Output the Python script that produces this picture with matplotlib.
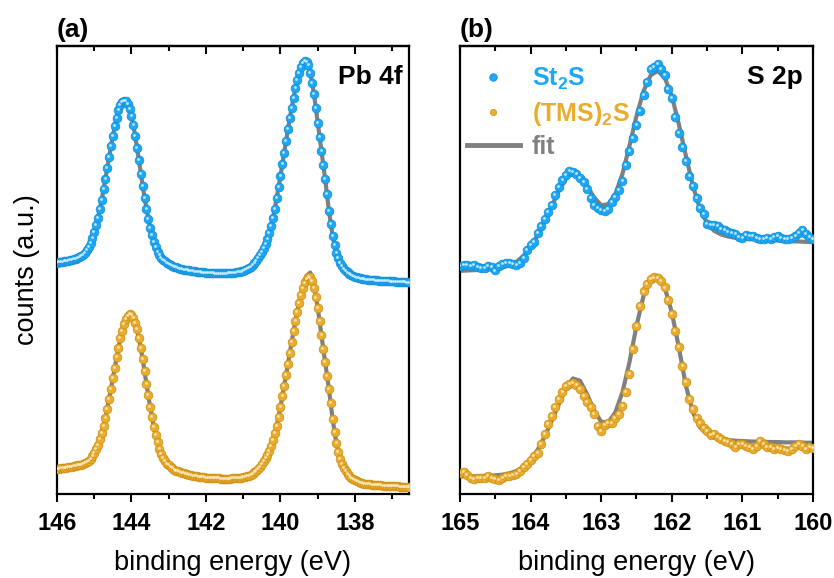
import numpy as np
import matplotlib
matplotlib.use("Agg")
import matplotlib.pyplot as plt
from matplotlib.lines import Line2D
from matplotlib.ticker import MultipleLocator
from matplotlib.transforms import offset_copy

plt.rcParams["font.family"] = ["Liberation Sans", "DejaVu Sans"]
plt.rcParams["mathtext.fontset"] = "custom"
plt.rcParams["mathtext.rm"] = "Liberation Sans"
plt.rcParams["mathtext.bf"] = "Liberation Sans:bold"

# ---- Pb 4f : data every 0.05 eV from 146 eV downwards ----
pb_start, pb_step = 146.0, 0.05
pb_st2s = [
    695, 696, 697, 698, 699, 700, 701, 702, 704, 705,
    707, 709, 712, 715, 719, 725, 733, 743, 755, 770,
    787, 807, 830, 855, 883, 915, 947, 980, 1012, 1045,
    1075, 1105, 1130, 1152, 1167, 1177, 1181, 1179, 1170, 1155,
    1135, 1107, 1075, 1040, 1002, 962, 925, 890, 857, 827,
    800, 777, 757, 741, 728, 718, 710, 704, 699, 695,
    691, 688, 685, 683, 681, 679, 677, 676, 674, 673,
    672, 671, 670, 669, 668, 667, 667, 666, 665, 665,
    664, 664, 663, 663, 663, 662, 662, 662, 662, 662,
    662, 662, 663, 663, 663, 664, 665, 666, 667, 668,
    670, 672, 675, 678, 682, 687, 693, 700, 708, 717,
    727, 738, 751, 767, 785, 805, 830, 857, 890, 923,
    955, 990, 1025, 1060, 1095, 1128, 1160, 1190, 1218, 1243,
    1265, 1282, 1293, 1299, 1298, 1287, 1265, 1235, 1200, 1160,
    1115, 1073, 1030, 987, 945, 900, 850, 810, 775, 747,
    725, 708, 695, 685, 677, 670, 665, 661, 657, 654,
    652, 650, 648, 647, 646, 645, 644, 643, 643, 642,
    642, 641, 641, 640, 640, 640, 639, 639, 639, 638,
    638, 638, 637, 637, 637, 636, 636, 636, 635, 635,
]
pb_tms = [
    75, 76, 77, 77, 78, 79, 80, 81, 82, 83,
    84, 86, 87, 88, 90, 93, 96, 100, 106, 113,
    123, 134, 148, 164, 183, 205, 229, 256, 286, 316,
    348, 378, 410, 438, 467, 490, 511, 525, 535, 539,
    537, 528, 514, 495, 468, 438, 405, 369, 331, 296,
    262, 231, 202, 177, 155, 136, 121, 108, 99, 91,
    86, 81, 77, 73, 70, 68, 66, 64, 62, 60,
    59, 57, 56, 55, 54, 53, 52, 51, 50, 50,
    49, 49, 49, 48, 48, 47, 47, 47, 46, 46,
    46, 46, 46, 46, 47, 47, 47, 48, 49, 49,
    50, 51, 53, 55, 58, 61, 65, 69, 75, 82,
    89, 98, 107, 118, 130, 145, 163, 182, 205, 231,
    262, 294, 324, 357, 391, 424, 457, 488, 519, 547,
    574, 598, 619, 635, 645, 651, 650, 639, 619, 590,
    557, 519, 476, 436, 395, 354, 315, 272, 224, 186,
    153, 126, 106, 89, 77, 68, 60, 53, 49, 45,
    41, 38, 36, 34, 32, 31, 30, 30, 29, 28,
    28, 27, 27, 26, 26, 25, 25, 25, 24, 24,
    24, 23, 23, 23, 22, 22, 22, 21, 21, 21,
]
# fitted envelopes, 0.1 eV grid
pb_fit_step = 0.1
pb_st2s_fit = [
    695, 697, 699, 701, 704, 707, 712, 719, 733, 755,
    787, 830, 883, 947, 1012, 1075, 1130, 1167, 1181, 1170,
    1135, 1075, 1002, 925, 857, 800, 757, 728, 710, 699,
    691, 685, 681, 677, 674, 672, 670, 668, 667, 665,
    664, 663, 663, 662, 662, 662, 663, 663, 665, 667,
    670, 675, 682, 693, 708, 727, 751, 785, 830, 890,
    955, 1025, 1095, 1160, 1218, 1265, 1293, 1300, 1265, 1200,
    1115, 1030, 945, 850, 775, 725, 695, 677, 665, 657,
    652, 648, 646, 644, 643, 642, 641, 640, 639, 639,
    638, 637, 637, 636, 635,
]
pb_tms_fit = [
    75, 77, 78, 80, 82, 84, 87, 90, 96, 106,
    123, 148, 183, 229, 286, 348, 410, 467, 511, 535,
    537, 514, 468, 405, 331, 262, 202, 155, 121, 99,
    86, 77, 70, 66, 62, 59, 56, 54, 52, 50,
    49, 49, 48, 47, 46, 46, 46, 47, 47, 49,
    50, 53, 58, 65, 75, 89, 107, 130, 163, 205,
    262, 324, 391, 457, 519, 576, 622, 655, 665, 628,
    560, 476, 395, 315, 224, 153, 106, 77, 60, 49,
    41, 36, 32, 30, 29, 28, 27, 26, 25, 24,
    24, 23, 22, 22, 21,
]

# ---- S 2p : data every 0.05 eV from 165 eV downwards ----
s_start, s_step = 165.0, 0.05
s_st2s = [
    685, 687, 689, 685, 687, 683, 680, 679, 685, 681,
    671, 685, 690, 693, 695, 692, 689, 695, 710, 733,
    747, 757, 783, 805, 825, 848, 867, 897, 923, 942,
    957, 969, 967, 960, 949, 937, 917, 890, 868, 858,
    853, 850, 857, 878, 893, 913, 940, 988, 1030, 1068,
    1107, 1150, 1198, 1237, 1277, 1283, 1290, 1277, 1257, 1217,
    1188, 1133, 1083, 1042, 1000, 955, 925, 890, 860, 842,
    810, 808, 807, 805, 797, 792, 787, 785, 781, 772,
    769, 779, 775, 775, 769, 765, 765, 769, 766, 771,
    775, 769, 765, 767, 770, 775, 785, 792, 780, 771,
    765,
]
s_tms = [
    62, 65, 57, 48, 45, 47, 49, 48, 53, 49,
    45, 43, 49, 53, 55, 57, 60, 70, 80, 91,
    102, 115, 123, 150, 180, 210, 235, 260, 285, 307,
    323, 330, 333, 327, 315, 295, 277, 260, 240, 205,
    190, 207, 213, 212, 227, 240, 265, 305, 360, 435,
    505, 565, 608, 630, 645, 650, 648, 640, 620, 583,
    540, 490, 440, 385, 335, 285, 255, 228, 212, 198,
    188, 177, 180, 170, 165, 160, 155, 149, 140, 150,
    150, 145, 140, 135, 145, 160, 149, 142, 140, 135,
    137, 135, 133, 130, 135, 145, 149, 143, 135, 140,
    137,
]
s_fit_step = 0.1
s_st2s_fit = [
    670, 671, 672, 673, 675, 677, 680, 687, 697, 715,
    742, 777, 820, 865, 910, 947, 965, 955, 925, 890,
    867, 870, 900, 960, 1045, 1135, 1210, 1257, 1270, 1250,
    1195, 1110, 1015, 925, 855, 813, 790, 779, 773, 769,
    767, 765, 764, 763, 762, 761, 760, 759, 758, 757,
    756,
]
s_tms_fit = [
    53, 53, 53, 54, 55, 56, 58, 62, 69, 82,
    103, 133, 173, 220, 270, 317, 347, 340, 300, 250,
    217, 215, 245, 305, 395, 505, 595, 645, 655, 620,
    545, 440, 325, 245, 200, 180, 170, 165, 162, 160,
    159, 158, 157, 157, 156, 156, 155, 155, 155, 154,
    154,
]

pb_ticks = [146, 144, 142, 140, 138]
s_ticks = [165, 164, 163, 162, 161, 160]

BLUE, BLUE_EDGE, BLUE_SHINE = "#1DA8F5", "#168BD4", "#D2F0FF"
GOLD, GOLD_EDGE, GOLD_SHINE = "#EAAC2C", "#C98E17", "#FCEBBE"
GREY = "#808080"


def energy_axis(start, step, n):
    return start - step * np.arange(n)


def draw_dots(ax, x, y, color, edge, shine):
    ax.plot(x, y, "o", ms=6.3, mfc=color, mec=edge, mew=0.5, zorder=3)
    # small highlight so the dots look like little spheres
    tr = offset_copy(ax.transData, fig=ax.figure, x=-0.6, y=0.7, units="points")
    ax.plot(x, y, "o", ms=2.0, mfc=shine, mec="none", alpha=0.9,
            transform=tr, zorder=4)


def draw_fit(ax, x, y):
    ax.plot(x, y, color=GREY, lw=3, solid_capstyle="round", zorder=2)


fig = plt.figure(figsize=(8.34, 5.78), dpi=100)
ax1 = fig.add_axes([57 / 834, 1 - 494 / 578, 352 / 834, 448 / 578])
ax2 = fig.add_axes([460 / 834, 1 - 494 / 578, 353 / 834, 448 / 578])

# panel (a)
draw_fit(ax1, energy_axis(pb_start, pb_fit_step, len(pb_st2s_fit)), pb_st2s_fit)
draw_fit(ax1, energy_axis(pb_start, pb_fit_step, len(pb_tms_fit)), pb_tms_fit)
draw_dots(ax1, energy_axis(pb_start, pb_step, len(pb_st2s)), pb_st2s,
          BLUE, BLUE_EDGE, BLUE_SHINE)
draw_dots(ax1, energy_axis(pb_start, pb_step, len(pb_tms)), pb_tms,
          GOLD, GOLD_EDGE, GOLD_SHINE)
ax1.set_xlim(146, 136.55)
ax1.set_xticks(pb_ticks, labels=[str(t) for t in pb_ticks])
ax1.xaxis.set_minor_locator(MultipleLocator(1))

# panel (b)
draw_fit(ax2, energy_axis(s_start, s_fit_step, len(s_st2s_fit)), s_st2s_fit)
draw_fit(ax2, energy_axis(s_start, s_fit_step, len(s_tms_fit)), s_tms_fit)
draw_dots(ax2, energy_axis(s_start, s_step, len(s_st2s)), s_st2s,
          BLUE, BLUE_EDGE, BLUE_SHINE)
draw_dots(ax2, energy_axis(s_start, s_step, len(s_tms)), s_tms,
          GOLD, GOLD_EDGE, GOLD_SHINE)
ax2.set_xlim(165, 160)
ax2.set_xticks(s_ticks, labels=[str(t) for t in s_ticks])
ax2.xaxis.set_minor_locator(MultipleLocator(0.5))

for ax in (ax1, ax2):
    ax.set_ylim(0, 1345)
    ax.set_yticks([])
    for sp in ax.spines.values():
        sp.set_linewidth(1.6)
    ax.tick_params(axis="x", which="major", direction="out", length=6,
                   width=1.5, labelsize=17, pad=7)
    ax.tick_params(axis="x", which="minor", direction="out", length=3.5,
                   width=1.5)
    for lab in ax.get_xticklabels():
        lab.set_fontweight("bold")
    ax.set_xlabel("binding energy (eV)", fontsize=19.5, labelpad=11)
    # inward ticks along the top edge
    top = ax.secondary_xaxis("top")
    top.set_xticks(ax.get_xticks())
    top.xaxis.set_minor_locator(ax.xaxis.get_minor_locator())
    top.tick_params(axis="x", which="major", direction="in", length=6,
                    width=1.5, labeltop=False)
    top.tick_params(axis="x", which="minor", direction="in", length=3.5,
                    width=1.5)
    top.spines["top"].set_linewidth(1.6)

ax1.set_ylabel("counts (a.u.)", fontsize=19.5, labelpad=12)

ax1.text(0, 1 + 4 / 448, "(a)", transform=ax1.transAxes, fontsize=19,
         fontweight="bold", ha="left", va="bottom")
ax2.text(0, 1 + 4 / 448, "(b)", transform=ax2.transAxes, fontsize=19,
         fontweight="bold", ha="left", va="bottom")
ax1.text(1 - 6 / 352, 1 - 19 / 448, "Pb 4f", transform=ax1.transAxes,
         fontsize=19, fontweight="bold", ha="right", va="top")
ax2.text(1 - 10 / 353, 1 - 19 / 448, "S 2p", transform=ax2.transAxes,
         fontsize=19, fontweight="bold", ha="right", va="top")

handles = [
    Line2D([], [], ls="none", marker="o", ms=5.5, mfc=BLUE, mec=BLUE_EDGE, mew=0.5),
    Line2D([], [], ls="none", marker="o", ms=4.5, mfc=GOLD, mec=GOLD_EDGE, mew=0.5),
    Line2D([], [], color=GREY, lw=3.5),
]
labels = ["St$_\\mathbf{2}$S", "(TMS)$_\\mathbf{2}$S", "fit"]
leg = ax2.legend(handles, labels, loc="upper left",
                 bbox_to_anchor=(7 / 353, 1 - 20 / 448), frameon=False,
                 prop={"weight": "bold", "size": 18}, handlelength=2.1,
                 handletextpad=0.5, labelspacing=0.3, borderpad=0,
                 borderaxespad=0)
for txt, col in zip(leg.get_texts(), [BLUE, GOLD, GREY]):
    txt.set_color(col)

fig.savefig("out.png", dpi=100)
